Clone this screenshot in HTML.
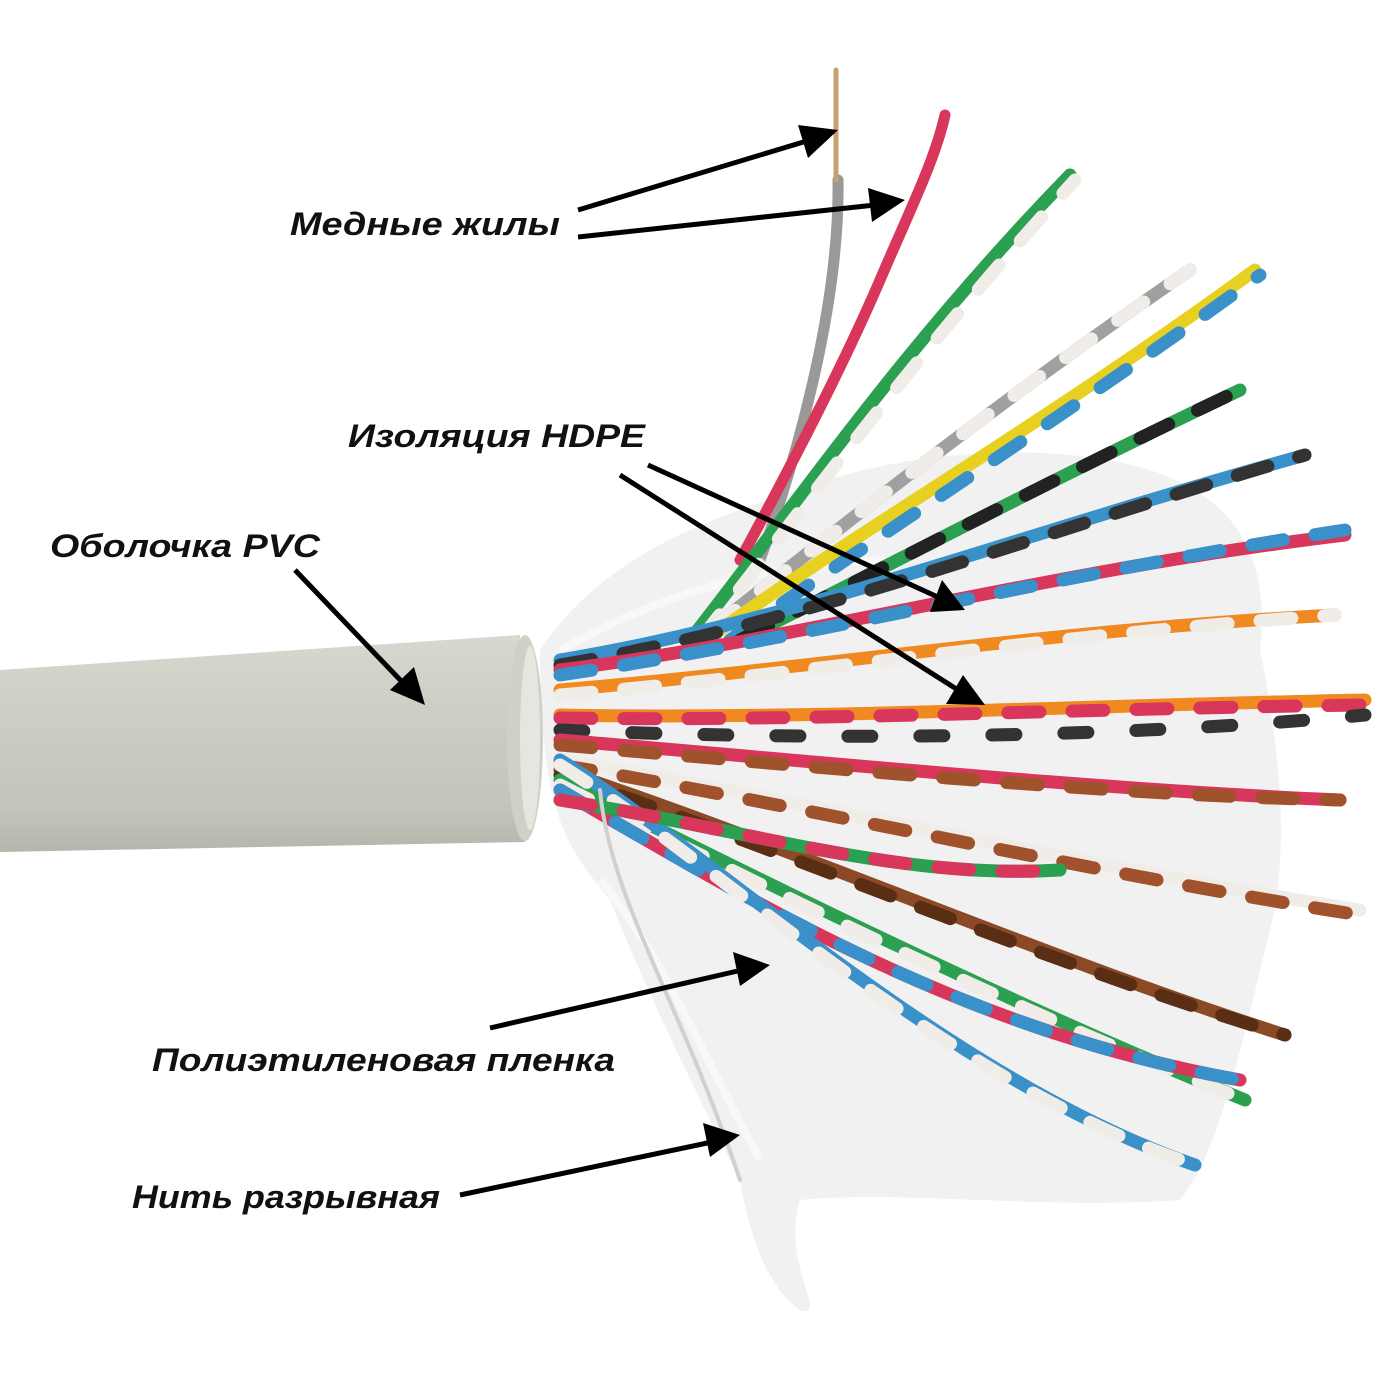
<!DOCTYPE html>
<html><head><meta charset="utf-8">
<style>
html,body{margin:0;padding:0;background:#fff;}
svg{display:block;}
text{font-family:"Liberation Sans","DejaVu Sans",sans-serif;font-weight:bold;font-style:italic;font-size:32px;fill:#111;}
</style></head>
<body>
<svg width="1400" height="1400" viewBox="0 0 1400 1400" xmlns="http://www.w3.org/2000/svg">
<defs>
<linearGradient id="jk" x1="0" y1="0" x2="0" y2="1">
<stop offset="0" stop-color="#d8d8d0"/><stop offset="0.3" stop-color="#cfcfc6"/><stop offset="0.8" stop-color="#c4c4ba"/><stop offset="1" stop-color="#b5b5ab"/>
</linearGradient>
</defs>
<path d="M540,650 C600,560 700,520 800,490 C900,450 1050,440 1150,470 C1240,500 1270,560 1260,650 C1280,750 1290,850 1270,930 C1240,1050 1220,1150 1180,1200 C1050,1210 900,1190 800,1200 C780,1260 830,1320 800,1310 C770,1290 750,1240 740,1180 C700,1100 650,1000 610,900 C570,850 540,820 540,650 Z" fill="#efefef" opacity="0.9"/>
<path d="M560,650 C650,600 760,560 900,560 M600,880 C660,950 700,1050 760,1160" stroke="#fafafa" stroke-width="8" fill="none" opacity="0.8"/>
<path d="M0,670 L520,635 L525,842 L0,852 Z" fill="url(#jk)"/>
<ellipse cx="525" cy="738" rx="18" ry="103" fill="#d0d0c8"/>
<ellipse cx="530" cy="738" rx="10" ry="92" fill="#e6e6e0"/>
<g fill="none" stroke-linecap="round">
<path d="M760,560 C800,450 840,300 838,180" stroke="#999" stroke-width="11"/>
<path d="M836,180 L836,70" stroke="#c9a070" stroke-width="5"/>
<path d="M740,560 C800,450 850,350 880,280 C910,210 935,160 945,115" stroke="#d8365a" stroke-width="11"/>
<g stroke-width="13">
<path d="M690,640 C800,500 900,350 1070,175" stroke="#2aa050"/>
<path d="M700,640 C810,500 910,360 1075,180" stroke="#f0ece8" stroke-dasharray="32 32"/>
<path d="M710,630 C850,520 1000,400 1190,270" stroke="#a0a0a0"/>
<path d="M710,630 C850,520 1000,400 1190,270" stroke="#f0ece8" stroke-dasharray="32 32"/>
<path d="M720,630 C860,530 1050,420 1255,270" stroke="#e8d020"/>
<path d="M730,640 C870,540 1060,420 1260,275" stroke="#3a90c8" stroke-dasharray="32 32"/>
<path d="M740,640 C900,560 1050,480 1240,390" stroke="#2aa050"/>
<path d="M740,640 C900,560 1050,480 1240,390" stroke="#222" stroke-dasharray="32 32"/>
<path d="M560,660 C800,620 1000,540 1305,455" stroke="#3a90c8"/>
<path d="M560,665 C800,625 1000,545 1305,455" stroke="#333" stroke-dasharray="32 32"/>
<path d="M560,670 C800,640 1050,570 1345,535" stroke="#d8365a"/>
<path d="M560,675 C800,640 1050,575 1345,530" stroke="#3a90c8" stroke-dasharray="32 32"/>
<path d="M560,690 C800,670 1050,630 1335,615" stroke="#f08a20"/>
<path d="M560,695 C800,675 1050,635 1335,615" stroke="#f0ece8" stroke-dasharray="32 32"/>
<path d="M560,715 C800,720 1100,705 1365,700" stroke="#f08a20"/>
<path d="M560,718 C800,722 1100,708 1365,705" stroke="#d8365a" stroke-dasharray="32 32"/>
<path d="M560,730 C800,740 1100,740 1365,715" stroke="#333" stroke-dasharray="24 48"/>
<path d="M560,740 C800,760 1100,790 1340,800" stroke="#d8365a"/>
<path d="M560,745 C800,765 1100,795 1340,800" stroke="#a0522d" stroke-dasharray="32 32"/>
<path d="M560,760 C800,800 1100,870 1360,910" stroke="#f0ece8"/>
<path d="M560,765 C800,805 1100,875 1360,915" stroke="#a0522d" stroke-dasharray="32 32"/>
<path d="M560,770 C800,850 1050,960 1285,1035" stroke="#8b4a25"/>
<path d="M560,775 C800,855 1050,965 1285,1035" stroke="#5a2e15" stroke-dasharray="32 32"/>
<path d="M560,780 C760,880 1000,1000 1245,1100" stroke="#2aa050"/>
<path d="M560,785 C760,885 1000,1005 1245,1100" stroke="#f0ece8" stroke-dasharray="32 32"/>
<path d="M560,790 C750,900 960,1030 1240,1080" stroke="#d8365a"/>
<path d="M560,790 C750,900 960,1030 1240,1080" stroke="#3a90c8" stroke-dasharray="32 32"/>
<path d="M560,760 C720,860 950,1080 1195,1165" stroke="#3a90c8"/>
<path d="M560,765 C720,865 950,1085 1195,1165" stroke="#f0ece8" stroke-dasharray="32 32"/>
<path d="M560,800 C750,830 900,880 1060,870" stroke="#2aa050"/>
<path d="M560,800 C750,830 900,880 1060,870" stroke="#d8365a" stroke-dasharray="32 32"/>
</g>
<path d="M600,790 C610,900 680,1000 740,1180" stroke="#d0d0d0" stroke-width="4"/>
</g>
<g stroke="#000" stroke-width="5" fill="#000">
<line x1="578" y1="210" x2="810" y2="140"/><polygon points="838,130 798,125 808,158" stroke="none"/>
<line x1="578" y1="237" x2="875" y2="205"/><polygon points="905,200 868,188 872,222" stroke="none"/>
<line x1="648" y1="465" x2="940" y2="598"/><polygon points="965,610 942,580 930,612" stroke="none"/>
<line x1="620" y1="475" x2="958" y2="690"/><polygon points="985,705 963,675 946,704" stroke="none"/>
<line x1="295" y1="570" x2="405" y2="685"/><polygon points="425,705 414,667 390,690" stroke="none"/>
<line x1="490" y1="1028" x2="742" y2="970"/><polygon points="770,965 733,952 740,986" stroke="none"/>
<line x1="460" y1="1195" x2="712" y2="1142"/><polygon points="740,1135 703,1123 710,1157" stroke="none"/>
</g>
<text x="290" y="235" textLength="270" lengthAdjust="spacingAndGlyphs">Медные жилы</text>
<text x="348" y="447" textLength="297" lengthAdjust="spacingAndGlyphs">Изоляция HDPE</text>
<text x="50" y="557" textLength="270" lengthAdjust="spacingAndGlyphs">Оболочка PVC</text>
<text x="152" y="1071" textLength="463" lengthAdjust="spacingAndGlyphs">Полиэтиленовая пленка</text>
<text x="132" y="1208" textLength="308" lengthAdjust="spacingAndGlyphs">Нить разрывная</text>
</svg>
</body></html>
